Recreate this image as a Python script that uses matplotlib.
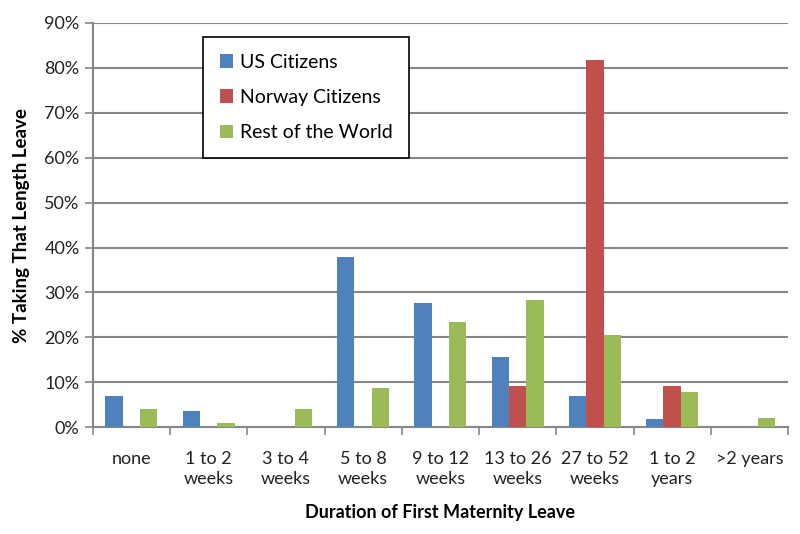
import numpy as np
import matplotlib.pyplot as plt
from matplotlib.ticker import PercentFormatter

plt.rcParams['font.family'] = ['Lato', 'DejaVu Sans']

categories = ["none", "1 to 2\nweeks", "3 to 4\nweeks", "5 to 8\nweeks", "9 to 12\nweeks",
              "13 to 26\nweeks", "27 to 52\nweeks", "1 to 2\nyears", ">2 years"]
us = [7, 3.5, 0, 38, 27.6, 15.6, 6.9, 1.8, 0]
norway = [0, 0, 0, 0, 0, 9.1, 81.8, 9.1, 0]
rest = [4, 1, 4, 8.8, 23.5, 28.4, 20.5, 7.8, 2]

series = ["US Citizens", "Norway Citizens", "Rest of the World"]
colors = ["#4F81BD", "#C0504D", "#9BBB59"]

x = np.arange(len(categories))
w = 0.225

fig = plt.figure(figsize=(8, 5.34), dpi=100)
ax = fig.add_axes([0.116, 0.2, 0.869, 0.757])

for i, (vals, lab, c) in enumerate(zip([us, norway, rest], series, colors)):
    ax.bar(x + (i - 1) * w, vals, width=w, color=c, label=lab, zorder=3)

ax.set_xlim(-0.5, len(categories) - 0.5)
ax.set_ylim(0, 90)
ax.set_yticks(np.arange(0, 91, 10))
ax.yaxis.set_major_formatter(PercentFormatter(decimals=0))
ax.set_xticks(x)
ax.set_xticklabels(categories, fontsize=13, color="#222222", linespacing=1.35)
ax.set_xticks(np.arange(-0.5, len(categories)), minor=True)
ax.tick_params(axis='x', which='major', length=0, pad=17)
ax.tick_params(axis='x', which='minor', length=6, width=1.2, color="#868686", direction='out')
ax.tick_params(axis='y', length=6, width=1.2, color="#868686", labelsize=13, labelcolor="#222222")

ax.grid(axis='y', color="#868686", linewidth=1.5, zorder=0)
for s in ['top', 'right']:
    ax.spines[s].set_visible(False)
for s in ['left', 'bottom']:
    ax.spines[s].set_color("#868686")
    ax.spines[s].set_linewidth(1.5)

ax.set_xlabel("Duration of First Maternity Leave", fontsize=13, fontweight='bold', labelpad=12)
ax.set_ylabel("% Taking That Length Leave", fontsize=13.5, fontweight='bold', labelpad=10)

leg = ax.legend(loc='upper left', bbox_to_anchor=(203 / 800, 1 - 37 / 534),
                bbox_transform=fig.transFigure, fontsize=14, handlelength=0.7,
                handleheight=0.7, handletextpad=0.35, labelspacing=0.95, borderpad=0.85,
                fancybox=False, framealpha=1, edgecolor="black", borderaxespad=0)
leg.get_frame().set_linewidth(1.2)
leg.set_zorder(5)

fig.savefig("out.png", dpi=100)
